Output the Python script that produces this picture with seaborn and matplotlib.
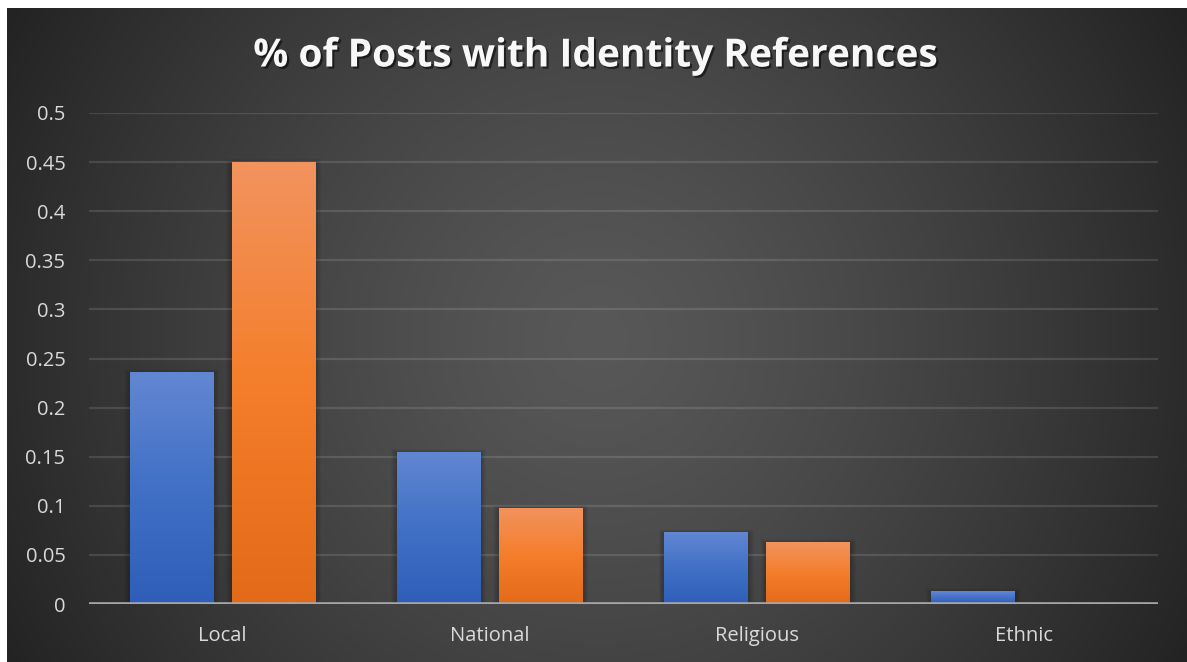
import numpy as np
import pandas as pd
import matplotlib
matplotlib.use("Agg")
import matplotlib.pyplot as plt
import matplotlib.patheffects as pe
from matplotlib.colors import LinearSegmentedColormap
from matplotlib.patches import Rectangle
import seaborn as sns

# ---- data ----
categories = ["Local", "National", "Religious", "Ethnic"]
series_names = ["Series 1", "Series 2"]
series1_values = [0.236, 0.155, 0.073, 0.013]
series2_values = [0.450, 0.098, 0.063, 0.0]
y_ticks = [0, 0.05, 0.1, 0.15, 0.2, 0.25, 0.3, 0.35, 0.4, 0.45, 0.5]
y_tick_labels = ["0", "0.05", "0.1", "0.15", "0.2", "0.25", "0.3", "0.35", "0.4", "0.45", "0.5"]
title = "% of Posts with Identity References"

df = pd.DataFrame({
    "category": categories * 2,
    "series": [series_names[0]] * len(categories) + [series_names[1]] * len(categories),
    "value": series1_values + series2_values,
})

sns.set_theme(style="dark")
plt.rcParams["font.family"] = ["Open Sans", "DejaVu Sans"]

W, H = 1187, 662
fig = plt.figure(figsize=(W / 100, H / 100), dpi=100, facecolor="white")

# dark radial background panel
bg = fig.add_axes([7 / W, 0, 1 - 7 / W, 1 - 8 / H], zorder=-10)
yy, xx = np.mgrid[0:654, 0:1180]
cx, cy = 590, 330
r = np.sqrt((xx - cx) ** 2 + (yy - cy) ** 2)
r = np.clip(r / 720.0, 0, 1)
shade = 0.345 - (0.345 - 0.118) * r ** 1.3
bg.imshow(np.dstack([shade] * 3), aspect="auto", interpolation="bilinear")
bg.set_axis_off()

# plot area
left, right = 89 / W, 1158 / W
bottom, top = (H - 604) / H, (H - 113) / H
ax = fig.add_axes([left, bottom, right - left, top - bottom])
ax.set_facecolor("none")

sns.barplot(data=df, x="category", y="value", hue="series",
            palette=["#4472c4", "#ed7d31"], width=0.764, gap=0.18,
            legend=False, ax=ax, zorder=3, linewidth=0)

ax.set_yticks(y_ticks)
ax.set_yticklabels(y_tick_labels)
ax.set_xlabel("")
ax.set_ylabel("")
for s in ax.spines.values():
    s.set_visible(False)
ax.tick_params(axis="y", length=0, pad=17, labelsize=14.5, labelcolor="#d9d9d9")
ax.tick_params(axis="x", length=0, pad=16, labelsize=14.5, labelcolor="#d9d9d9")
ax.yaxis.grid(True, color="#ffffff", alpha=0.12, linewidth=1.6, zorder=0)
ax.xaxis.grid(False)
ax.set_axisbelow(True)
ax.axhline(0, color="#a6a6a6", linewidth=2.6, zorder=5)

# vertical gradient fills for the bars
blue_cmap = LinearSegmentedColormap.from_list("b", ["#2e5eb8", "#4170c6", "#6287d2"])
orange_cmap = LinearSegmentedColormap.from_list("o", ["#e36a18", "#f47e2b", "#f2935e"])
grad = np.linspace(0, 1, 256).reshape(-1, 1)
n = len(categories)
for i, patch in enumerate(ax.patches):
    x0, y0 = patch.get_x(), patch.get_y()
    w, h = patch.get_width(), patch.get_height()
    if h <= 0:
        continue
    cmap = blue_cmap if i < n else orange_cmap
    # soft shadow behind each bar
    for k in range(6):
        dx = 0.0035 * (k + 1)
        ax.add_patch(Rectangle((x0 - dx, y0 - 0.002), w + 2 * dx, h + 0.0008 * (k + 1),
                               facecolor="black", alpha=0.035, linewidth=0, zorder=2))
    im = ax.imshow(grad, extent=[x0, x0 + w, y0, y0 + h], origin="lower",
                   cmap=cmap, aspect="auto", zorder=4)
    im.set_clip_path(patch)
    patch.set_facecolor("none")
ax.set_xlim(-0.5, len(categories) - 0.5)
ax.set_ylim(0, 0.5)

fig.text(0.5015, (H - 56) / H, title, ha="center", va="center",
         fontsize=28, fontweight="bold", color="#f8f8f8",
         path_effects=[pe.withSimplePatchShadow(offset=(1.5, -1.5), shadow_rgbFace="black", alpha=0.55)])

fig.savefig("out.png", dpi=100, facecolor="white")
